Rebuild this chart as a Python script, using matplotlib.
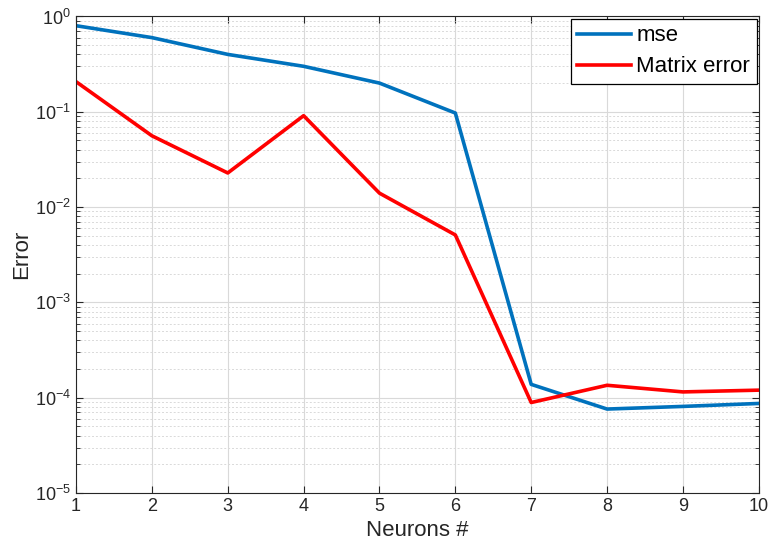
import numpy as np
import matplotlib.pyplot as plt

plt.rcParams.update({"font.family": ["Liberation Sans", "DejaVu Sans"],
                     "mathtext.fontset": "custom",
                     "mathtext.rm": "Liberation Sans",
                     "mathtext.it": "Liberation Sans:italic",
                     "mathtext.bf": "Liberation Sans:bold",
                     "mathtext.default": "regular",
                     "xtick.direction": "in",
                     "ytick.direction": "in",
                     "axes.edgecolor": "#262626",
                     "xtick.color": "#262626",
                     "ytick.color": "#262626"})

neurons = [1, 2, 3, 4, 5, 6, 7, 8, 9, 10]
mse = [0.80, 0.60, 0.40, 0.30, 0.20, 0.097, 1.38e-4, 7.6e-5, 8.1e-5, 8.7e-5]
matrix_err = [0.207, 0.056, 0.0228, 0.091, 0.014, 0.0051, 8.9e-5, 1.35e-4, 1.15e-4, 1.2e-4]

fig = plt.figure(figsize=(7.68, 5.49), dpi=100)
ax = fig.add_axes([0.099, 0.102, 0.889, 0.868])

ax.semilogy(neurons, mse, color="#0072BD", lw=2.6, label="mse")
ax.semilogy(neurons, matrix_err, color="#FF0000", lw=2.6, label="Matrix error")

ax.set_xlim(1, 10)
ax.set_ylim(1e-5, 1)
ax.set_xticks(neurons)
ax.tick_params(which="both", top=True, right=True, labelsize=13)
ax.tick_params(which="major", length=5)
ax.tick_params(which="minor", length=3)

ax.grid(True, which="major", color="#d9d9d9", lw=0.8)
ax.grid(True, which="minor", axis="y", color="#d9d9d9", lw=0.7, ls=(0, (2, 2)))
ax.set_axisbelow(True)

ax.set_xlabel("Neurons #", fontsize=16, color="#262626", labelpad=4)
ax.set_ylabel("Error", fontsize=16, color="#262626", labelpad=2)

leg = ax.legend(loc="upper right", fontsize=16, fancybox=False, framealpha=1,
                edgecolor="black", borderaxespad=0.1, handlelength=2.4,
                handletextpad=0.25, borderpad=0.3, labelspacing=0.45)
leg.get_frame().set_linewidth(0.9)

plt.savefig("out.png", dpi=100)
